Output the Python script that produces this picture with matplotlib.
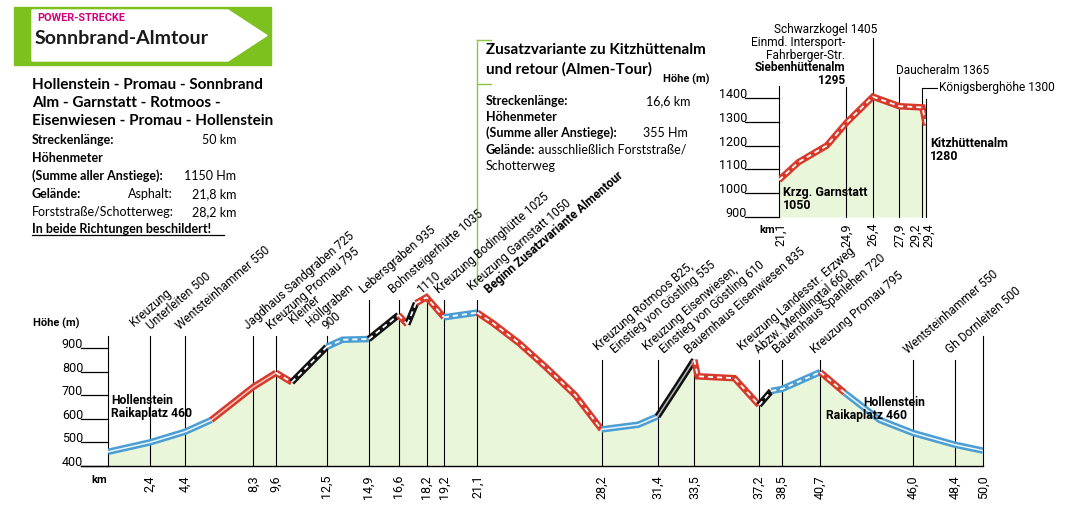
import matplotlib
matplotlib.use('Agg')
import matplotlib.pyplot as plt
from matplotlib.patches import Rectangle, Polygon

# ---- data -------------------------------------------------------------
# main profile (km, Höhe m)
main_km = [0, 2.4, 4.4, 5.9, 8.3, 9.6, 10.5, 12.5, 13.4, 14.9, 16.6, 17.1, 17.6,
           18.2, 19.2, 21.1, 22.0, 23.5, 25.0, 26.7, 28.2, 30.3, 31.4, 32.5, 33.5,
           33.7, 35.8, 37.2, 37.9, 38.5, 40.7, 42.1, 44.1, 46.0, 48.4, 50.0]
main_elev = [460, 500, 545, 595, 735, 795, 755, 905, 935, 938, 1040, 1000, 1090,
             1115, 1030, 1050, 1005, 920, 820, 700, 555, 575, 610, 735, 850,
             780, 772, 658, 718, 726, 798, 710, 595, 540, 490, 465]

# line segments: start km, end km, difficulty, surface
seg_start = [0, 5.9, 9.6, 10.5, 12.5, 14.9, 16.6, 17.1, 17.6, 19.2, 21.1, 28.2,
             31.4, 33.5, 37.2, 37.9, 40.7, 42.1]
seg_end = [5.9, 9.6, 10.5, 12.5, 14.9, 16.6, 17.1, 17.6, 19.2, 21.1, 28.2, 31.4,
           33.5, 37.2, 37.9, 40.7, 42.1, 50.0]
seg_grade = ['blau', 'rot', 'rot', 'schwarz', 'blau', 'schwarz', 'rot', 'schwarz',
             'rot', 'blau', 'rot', 'blau', 'schwarz', 'rot', 'schwarz', 'blau',
             'rot', 'blau']
seg_surface = ['asphalt', 'asphalt', 'forst', 'forst', 'forst', 'forst', 'forst',
               'forst', 'forst', 'forst', 'forst', 'asphalt', 'asphalt', 'forst',
               'forst', 'forst', 'forst', 'asphalt']

main_ticks = [0, 2.4, 4.4, 8.3, 9.6, 12.5, 14.9, 16.6, 18.2, 19.2, 21.1, 28.2,
              31.4, 33.5, 37.2, 38.5, 40.7, 46.0, 48.4, 50.0]
main_labels = ["", "Kreuzung\nUnterleiten 500", "Wentsteinhammer 550",
               "Jagdhaus Sandgraben 725", "Kreuzung Promau 795",
               "Kleiner\nHöllgraben\n900", "Lebersgraben 935",
               "Bohnsteigerhütte 1035", "1110", "Kreuzung Bodinghütte 1025",
               "Kreuzung Garnstatt 1050\nBeginn Zusatzvariante Almentour",
               "Kreuzung Rotmoos B25,\nEinstieg von Göstling 555",
               "Kreuzung Eisenwiesen,\nEinstieg von Göstling 610",
               "Bauernhaus Eisenwiesen 835",
               "Kreuzung Landesstr. Erzweg\nAbzw. Mendlingtal 660",
               "Bauernhaus Spanlehen 720", "Kreuzung Promau 795",
               "Wentsteinhammer 550", "Gh Dornleiten 500", ""]
bold_lines = {"Beginn Zusatzvariante Almentour"}
main_yticks = [400, 500, 600, 700, 800, 900]

# Zusatzvariante (inset)
inset_km = [21.1, 22.2, 23.8, 24.9, 26.4, 27.9, 29.2, 29.4]
inset_elev = [1055, 1130, 1200, 1295, 1405, 1365, 1360, 1285]
inset_ticks = [21.1, 24.9, 26.4, 27.9, 29.2, 29.4]
inset_yticks = [900, 1000, 1100, 1200, 1300, 1400]

# ---- styles -----------------------------------------------------------
W, H = 1073, 525
NARROW = ['Roboto', 'DejaVu Sans']
SANS = ['Lato', 'DejaVu Sans']
LAB = 8.6
FILL = '#eaf6da'
GRADE_COL = {'blau': '#4a9ed4', 'rot': '#d7392b', 'schwarz': '#111111'}
CORE_COL = {'blau': '#eaf5fb', 'rot': '#f3c7bf', 'schwarz': '#b5b5b5'}
GREEN = '#7dc11f'
# horizontal nudge (px) of the multi-line station labels
label_shift = {2.4: -6, 12.5: -7, 21.1: 5, 28.2: 7, 37.2: -7}

fig = plt.figure(figsize=(W / 100, H / 100), dpi=100)
ov = fig.add_axes([0, 0, 1, 1])
ov.set_xlim(0, W)
ov.set_ylim(H, 0)
ov.axis('off')


def T(x, y, s, **kw):
    # text in pixel coordinates, drawn above all axes
    kw.setdefault('va', 'center')
    return fig.text(x, y, s, transform=ov.transData, **kw)


def px_axes(x0, x1, ybot, ytop):
    return [x0 / W, (H - ybot) / H, (x1 - x0) / W, (ybot - ytop) / H]


def band(ax, xs, ys, grade, surface):
    ax.plot(xs, ys, color=GRADE_COL[grade], lw=4.7, solid_capstyle='butt',
            solid_joinstyle='miter', zorder=3)
    if surface == 'forst':
        ax.plot(xs, ys, color='white', lw=1.3, dashes=(2.8, 2.2),
                dash_capstyle='butt', zorder=4)
    else:
        ax.plot(xs, ys, color=CORE_COL[grade], lw=1.1, zorder=4)


# ---- header -----------------------------------------------------------
ov.add_patch(Rectangle((14, 7), 257, 58, color=GREEN, zorder=1))
ov.add_patch(Polygon([(32, 10), (228, 10), (267, 35.5), (228, 61), (32, 61)],
                     closed=True, color='white', zorder=2))
T(37, 18, "POWER-STRECKE", color='#d4007a', fontsize=7.8, fontweight='bold',
  family=NARROW)
T(35, 38, "Sonnbrand-Almtour", color='#1a1a1a', fontsize=14, fontweight='bold',
  family=SANS)

# ---- left info block --------------------------------------------------
for y, s in zip([85, 103, 121], ["Hollenstein - Promau - Sonnbrand",
                                 "Alm - Garnstatt - Rotmoos -",
                                 "Eisenwiesen - Promau - Hollenstein"]):
    T(32, y, s, fontsize=11, fontweight='bold', family=SANS)
rows = [(140, "Streckenlänge:", 'bold', "50 km"),
        (158, "Höhenmeter", 'bold', ""),
        (176, "(Summe aller Anstiege):", 'bold', "1150 Hm"),
        (194, "Gelände:", 'bold', "21,8 km"),
        (212, "Forststraße/Schotterweg:", 'normal', "28,2 km")]
for y, s, w, v in rows:
    T(32, y, s, fontsize=9, fontweight=w, family=SANS)
    T(236, y, v, fontsize=9, family=SANS, ha='right')
T(173, 194, "Asphalt:", fontsize=9, family=SANS, ha='right')
T(32, 229, "In beide Richtungen beschildert!", fontsize=9, fontweight='bold',
  family=SANS)
ov.plot([32, 224], [234.5, 234.5], color='black', lw=0.9)

# ---- Zusatzvariante block ---------------------------------------------
ov.plot([477, 477], [40, 284], color='#8dc63f', lw=1.0)
ov.plot([477, 491], [40, 40], color='#8dc63f', lw=1.0)
ov.plot([477, 491], [84, 84], color='#8dc63f', lw=1.0)
T(486, 50, "Zusatzvariante zu Kitzhüttenalm", fontsize=11, fontweight='bold',
  family=SANS)
T(486, 69, "und retour (Almen-Tour)", fontsize=11, fontweight='bold', family=SANS)
T(486, 101, "Streckenlänge:", fontsize=9, fontweight='bold', family=SANS)
T(690, 101, "16,6 km", fontsize=9, family=SANS, ha='right')
T(486, 117, "Höhenmeter", fontsize=9, fontweight='bold', family=SANS)
T(486, 133, "(Summe aller Anstiege):", fontsize=9, fontweight='bold', family=SANS)
T(688, 133, "355 Hm", fontsize=9, family=SANS, ha='right')
t = T(486, 150, "Gelände:", fontsize=9, fontweight='bold', family=SANS)
ov.annotate(" ausschließlich Forststraße/", xy=(1, 0.5), xycoords=t, va='center',
            fontsize=9, family=SANS)
T(486, 166, "Schotterweg", fontsize=9, family=SANS)

# ---- main profile -----------------------------------------------------
ax = fig.add_axes(px_axes(108, 983, 466, 289))
ax.set_xlim(0, 50)
ax.set_ylim(400, 1150)
ax.axis('off')

ax.fill_between(main_km, main_elev, 400, color=FILL, lw=0, zorder=1)
for a, b, g, s in zip(seg_start, seg_end, seg_grade, seg_surface):
    idx = [i for i, k in enumerate(main_km) if a <= k <= b]
    band(ax, [main_km[i] for i in idx], [main_elev[i] for i in idx], g, s)


def main_stem_top(k):
    if k <= 12.5 or k >= 50:
        return 951
    if k <= 21.1:
        return 1103
    return 849


for k, lab in zip(main_ticks, main_labels):
    top = main_stem_top(k)
    ax.plot([k, k], [400, top], color='black', lw=0.8, zorder=2, clip_on=False)
    if k > 0:
        ax.annotate(f"{k:.1f}".replace('.', ','), xy=(k, 400), xytext=(0, -9),
                    textcoords='offset pixels', rotation=90, ha='center', va='top',
                    fontsize=9, family=NARROW, annotation_clip=False)
    lines = lab.split('\n') if lab else []
    n = len(lines)
    for j, line in enumerate(lines):
        back = n - 1 - j          # lines above the last one step up-left
        dx = -5 if n == 1 else 7 - 17 * back + label_shift.get(k, 0)
        dy = 6 + 3 * back
        ax.annotate(line, xy=(k, top), xytext=(dx, dy), textcoords='offset pixels',
                    rotation=41, rotation_mode='anchor', ha='left', va='baseline',
                    fontsize=LAB, family=NARROW, annotation_clip=False,
                    fontweight='bold' if line in bold_lines else 'normal')

for e in main_yticks:
    ax.plot([-1.55, 0], [e, e], color='black', lw=0.9, clip_on=False)
    ax.text(-1.42, e, str(e), ha='right', va='baseline', fontsize=9, family=NARROW)
ax.plot([-1.55, 50], [400, 400], color='black', lw=1.0, clip_on=False)

T(33, 323, "Höhe (m)", fontsize=8, fontweight='bold', family=NARROW)
T(91, 480, "km", fontsize=8, fontweight='bold', family=NARROW)
T(111, 400, "Hollenstein", fontsize=8.7, fontweight='bold', family=NARROW)
T(111, 414, "Raikaplatz 460", fontsize=8.7, fontweight='bold', family=NARROW)
T(863, 402, "Hollenstein", fontsize=8.7, fontweight='bold', family=NARROW)
T(826, 415, "Raikaplatz 460", fontsize=8.7, fontweight='bold', family=NARROW)

# ---- inset profile ----------------------------------------------------
ix = fig.add_axes(px_axes(779, 926, 217, 86))
ix.set_xlim(21.1, 29.4)
ix.set_ylim(900, 1450)
ix.axis('off')
ix.fill_between(inset_km, inset_elev, 900, color=FILL, lw=0, zorder=1)
band(ix, inset_km, inset_elev, 'rot', 'forst')

inset_tops = {21.1: 1450, 24.9: 1446, 26.4: 1652, 27.9: 1488, 29.2: 1442, 29.4: 1396}
inset_label_dx = {21.1: 2, 29.2: -7, 29.4: 3}
for k in inset_ticks:
    ix.plot([k, k], [900, inset_tops[k]], color='black', lw=0.8, zorder=2, clip_on=False)
    ix.annotate(f"{k:.1f}".replace('.', ','), xy=(k, 900),
                xytext=(inset_label_dx.get(k, 0), -6),
                textcoords='offset pixels', rotation=90, ha='center', va='top',
                fontsize=9, family=NARROW, annotation_clip=False)
ix.plot([29.2, 30.02], [1442, 1442], color='black', lw=0.8, clip_on=False)
for e in inset_yticks:
    ix.plot([19.18, 21.1], [e, e], color='black', lw=0.9, clip_on=False)
    ix.text(19.3, e, str(e), ha='right', va='baseline', fontsize=9, family=NARROW)

T(663, 79, "Höhe (m)", fontsize=8, fontweight='bold', family=NARROW)
T(759, 230, "km", fontsize=8, fontweight='bold', family=NARROW)
T(877, 30, "Schwarzkogel 1405", fontsize=LAB, family=NARROW, ha='right')
T(845, 49, "Einmd. Intersport-\nFahrberger-Str.", fontsize=LAB, family=NARROW,
  ha='right', multialignment='right', linespacing=0.95)
T(845, 74, "Siebenhüttenalm\n1295", fontsize=LAB, fontweight='bold', family=NARROW,
  ha='right', multialignment='right', linespacing=0.95)
T(896, 70, "Daucheralm 1365", fontsize=LAB, family=NARROW)
T(939, 88, "Königsberghöhe 1300", fontsize=LAB, family=NARROW)
T(930, 150, "Kitzhüttenalm\n1280", fontsize=LAB + 0.3, fontweight='bold',
  family=NARROW, linespacing=1.0)
T(783, 199, "Krzg. Garnstatt\n1050", fontsize=LAB + 0.3, fontweight='bold',
  family=NARROW, linespacing=0.95)

fig.savefig('out.png', dpi=100)
